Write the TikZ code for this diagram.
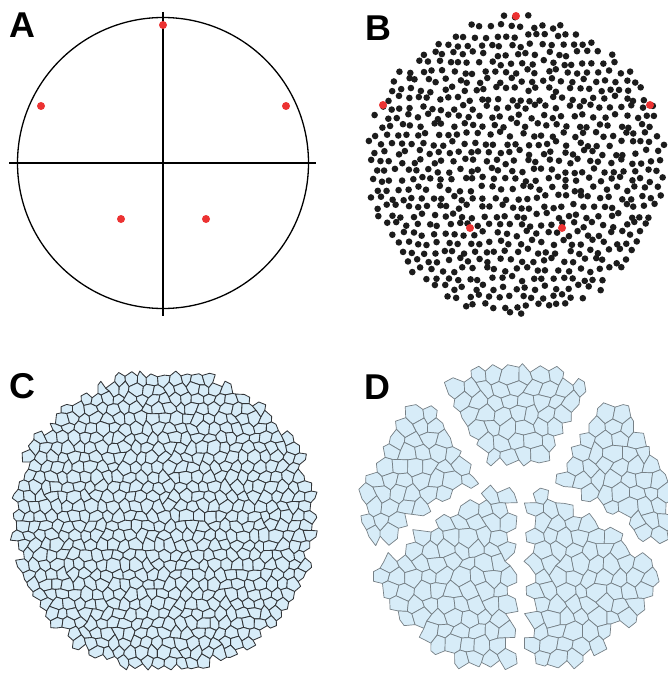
\documentclass[tikz,border=0pt]{standalone}
\usepackage{fontspec}
\setsansfont{Liberation Sans}
\usetikzlibrary{positioning}

\definecolor{cellblue}{RGB}{215,236,248}
\definecolor{seedred}{RGB}{236,50,50}
\definecolor{dotblack}{RGB}{28,28,28}

% jittered honeycomb corners: #1 name, #2 cell size, #3 i range, #4 j range
\newcommand{\makegrid}[4]{%
  \foreach \i in {-#3,...,#3} {
    \foreach \j in {-#4,...,#4} {
      \pgfmathsetmacro{\vx}{\i*0.866*#2+0.32*#2*rand}
      \pgfmathsetmacro{\vy}{\j*1.5*#2+(0.25-0.5*mod(abs(\i+\j),2))*#2+0.32*#2*rand}
      \expandafter\xdef\csname #1x\i/\j\endcsname{\vx}
      \expandafter\xdef\csname #1y\i/\j\endcsname{\vy}
    }
  }%
}
% the six corners of the cell with lower left corner (#2,#3)
\newcommand{\getcell}[3]{%
  \pgfmathtruncatemacro{\ia}{#2+1}\pgfmathtruncatemacro{\ib}{#2+2}%
  \pgfmathtruncatemacro{\jb}{#3+1}%
  \edef\pAx{\csname #1x#2/#3\endcsname}\edef\pAy{\csname #1y#2/#3\endcsname}%
  \edef\pBx{\csname #1x\ia/#3\endcsname}\edef\pBy{\csname #1y\ia/#3\endcsname}%
  \edef\pCx{\csname #1x\ib/#3\endcsname}\edef\pCy{\csname #1y\ib/#3\endcsname}%
  \edef\pDx{\csname #1x\ib/\jb\endcsname}\edef\pDy{\csname #1y\ib/\jb\endcsname}%
  \edef\pEx{\csname #1x\ia/\jb\endcsname}\edef\pEy{\csname #1y\ia/\jb\endcsname}%
  \edef\pFx{\csname #1x#2/\jb\endcsname}\edef\pFy{\csname #1y#2/\jb\endcsname}%
}
\newcommand{\cellpath}{(\pAx,\pAy) -- (\pBx,\pBy) -- (\pCx,\pCy) -- (\pDx,\pDy) -- (\pEx,\pEy) -- (\pFx,\pFy) -- cycle}

\pgfmathsetseed{11}
\makegrid{gc}{6.5}{27}{16}
\makegrid{gd}{9}{18}{11}

\begin{document}
\begin{tikzpicture}[x=1bp,y=-1bp,
  panel/.style={font=\fontsize{36}{36}\selectfont\bfseries\sffamily, inner sep=0pt},
  axis/.style={line width=1.3bp, black},
  cellC/.style={fill=cellblue, draw={rgb,255:red,50;green,53;blue,56}, line width=0.85bp, line join=round},
  cellD/.style={fill=cellblue, draw={rgb,255:red,118;green,128;blue,134}, line width=0.7bp, line join=round}]
\useasboundingbox (0,0) rectangle (668,673);
\clip (0,0) rectangle (668,673);

% A
\node[panel] (labA) at (22,25) {A};
\draw[axis] (163,163) circle (145.5);
\draw[axis] (9,163) -- (316,163);
\draw[axis] (163,12) -- (163,316);
\foreach \x/\y in {163/25, 41/106, 286/106, 121/219, 206/219}
  \fill[seedred] (\x,\y) circle (4);

% B
\node[panel] (labB) at (378,28) {B};
\begin{scope}[shift={(516,166)}]
\foreach \j in {-17,...,16} {
  \foreach \i in {-29,...,27} {
    \pgfmathtruncatemacro{\odd}{mod(abs(\i+\j),2)}
    \pgfmathtruncatemacro{\inside}{veclen((\i+1)*5.196,(\j+0.5)*9) < 149}
    \ifnum\odd=0 \ifnum\inside=1
      \fill[dotblack] ({(\i+1)*5.196+2.8*rand},{(\j+0.5)*9+2.8*rand}) circle (3.3);
    \fi\fi
  }
}
\end{scope}
\foreach \x/\y in {516/16, 383/105, 650/105, 470/228, 562/228}
  \fill[seedred] (\x,\y) circle (4);

% C
\node[panel] (labC) at (22,386) {C};
\begin{scope}[shift={(164,521)}]
\foreach \j in {-15,...,14} {
  \foreach \i in {-27,...,25} {
    \pgfmathtruncatemacro{\odd}{mod(abs(\i+\j),2)}
    \pgfmathtruncatemacro{\inside}{veclen((\i+1)*5.63,(\j+0.5)*9.75) < 150}
    \ifnum\odd=0 \ifnum\inside=1
      \getcell{gc}{\i}{\j}
      \filldraw[cellC] \cellpath;
    \fi\fi
  }
}
\end{scope}

% D
\node[panel] (labD) at (377,387) {D};
\begin{scope}[shift={(517,522)}]
\foreach \j in {-10,...,9} {
  \foreach \i in {-18,...,16} {
    \pgfmathtruncatemacro{\odd}{mod(abs(\i+\j),2)}
    \pgfmathsetmacro{\u}{(\i+1)*7.794/138}
    \pgfmathsetmacro{\v}{(\j+0.5)*13.5/138}
    \pgfmathtruncatemacro{\inside}{veclen(\u,\v) < 0.99}
    \ifnum\odd=0 \ifnum\inside=1
      \pgfmathsetmacro{\dT}{(\u)^2+(\v+0.946)^2}
      \pgfmathsetmacro{\dUL}{(\u+0.836)^2+(\v+0.392)^2}
      \pgfmathsetmacro{\dUR}{(\u-0.843)^2+(\v+0.392)^2}
      \pgfmathsetmacro{\dLL}{(\u+0.287)^2+(\v-0.387)^2}
      \pgfmathsetmacro{\dLR}{(\u-0.293)^2+(\v-0.387)^2}
      \pgfmathsetmacro{\dmin}{min(\dT,\dUL,\dUR,\dLL,\dLR)}
      \pgfmathsetmacro{\shx}{-17.5*(\dUL==\dmin)+17.7*(\dUR==\dmin)-9.5*(\dLL==\dmin)+9.5*(\dLR==\dmin)}
      \pgfmathsetmacro{\shy}{-19.5*(\dT==\dmin)-8.2*(\dUL==\dmin)-8.2*(\dUR==\dmin)+8*(\dLL==\dmin)+8*(\dLR==\dmin)}
      \getcell{gd}{\i}{\j}
      \filldraw[cellD, shift={(\shx,\shy)}] \cellpath;
    \fi\fi
  }
}
\end{scope}
\end{tikzpicture}
\end{document}
